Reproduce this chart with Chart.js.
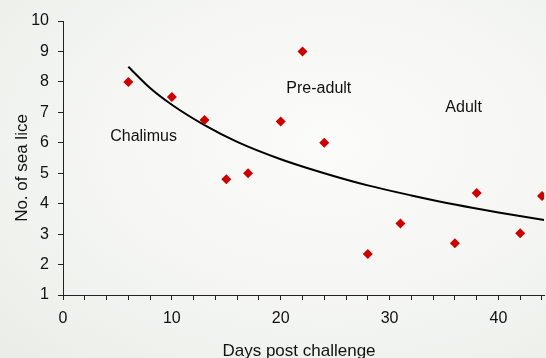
<!DOCTYPE html>
<html>
<head>
<meta charset="utf-8">
<script src="https://cdn.jsdelivr.net/npm/chart.js@4.4.0/dist/chart.umd.min.js"></script>
<style>
  html, body { margin: 0; padding: 0; }
  body {
    width: 546px; height: 358px; overflow: hidden;
    background: radial-gradient(ellipse at 60% 40%, #fbfbfa 0%, #f6f7f5 45%, #eaede7 100%);
  }
  /* the original picture is cropped on the right, so the chart runs a few px past the edge */
  #wrap { position: relative; width: 551px; height: 358px; }
</style>
</head>
<body>
<div id="wrap"><canvas id="graph"></canvas></div>
<script>
// days post challenge / number of sea lice
const days = [6, 10, 13, 15, 17, 20, 22, 24, 28, 31, 36, 38, 42, 44];
const lice = [8, 7.5, 6.75, 4.8, 5, 6.7, 9, 6, 2.35, 3.35, 2.7, 4.35, 3.03, 4.25];

// trend curve
const trendDays = [6, 8, 10, 13, 16, 20, 24, 28, 32, 36, 40, 44.2];
const trendLice = [8.5, 7.8, 7.25, 6.58, 6.03, 5.46, 5.0, 4.6, 4.27, 3.97, 3.71, 3.46];

// stage names and where they sit (data units)
const stages = ['Chalimus', 'Pre-adult', 'Adult'];
const stageDays = [7.4, 23.5, 36.8];
const stageLice = [6.2, 7.77, 7.14];

const xTicks = [0, 10, 20, 30, 40];
const xTitle = 'Days post challenge';
const yTitle = 'No. of sea lice';

let points = days.map(function (d, i) { return { x: d, y: lice[i] }; });
let trend = trendDays.map(function (d, i) { return { x: d, y: trendLice[i] }; });

const FONT = '"Liberation Sans", Arial, sans-serif';

const stageLabels = {
    id: 'stageLabels',
    afterDatasetsDraw: function (chart) {
        let ctx = chart.ctx;
        let xs = chart.scales.x;
        let ys = chart.scales.y;
        ctx.save();
        ctx.font = '16px ' + FONT;
        ctx.fillStyle = '#111';
        ctx.textAlign = 'center';
        ctx.textBaseline = 'middle';
        for (let i = 0; i < stages.length; i++) {
            ctx.fillText(stages[i], xs.getPixelForValue(stageDays[i]), ys.getPixelForValue(stageLice[i]));
        }
        // axis titles
        ctx.font = '17px ' + FONT;
        ctx.textBaseline = 'alphabetic';
        ctx.fillText(xTitle, 299, 356);
        ctx.translate(27, 168);
        ctx.rotate(-Math.PI / 2);
        ctx.fillText(yTitle, 0, 0);
        ctx.restore();
    }
};

let ctx = document.getElementById('graph').getContext('2d');
Chart.defaults.font.family = FONT;
Chart.defaults.color = '#111';

let graph = new Chart(ctx, {
    type: 'scatter',
    data: {
        datasets: [
            {
                data: points,
                pointStyle: 'rectRot',
                pointRadius: 5,
                pointHoverRadius: 5,
                backgroundColor: '#cc0000',
                borderWidth: 0,
                order: 1
            },
            {
                data: trend,
                showLine: true,
                pointRadius: 0,
                borderColor: '#000',
                borderWidth: 2,
                cubicInterpolationMode: 'monotone',
                order: 2
            }
        ]
    },
    options: {
        responsive: true,
        maintainAspectRatio: false,
        animation: false,
        layout: { padding: { top: 21, right: 0, bottom: 0, left: 0 } },
        plugins: {
            legend: { display: false },
            tooltip: { enabled: false }
        },
        scales: {
            x: {
                type: 'linear',
                min: 0,
                max: 44.2,
                afterFit: function (scale) {
                    scale.height = 63;
                },
                border: { color: '#222', width: 1 },
                grid: { display: true, drawOnChartArea: false, tickLength: 5, color: '#222' },
                ticks: {
                    stepSize: 2,
                    includeBounds: false,
                    padding: 9,
                    maxRotation: 0,
                    autoSkip: false,
                    font: { size: 16 },
                    callback: function (v) { return xTicks.indexOf(v) >= 0 ? String(v) : ''; }
                },
                title: { display: false }
            },
            y: {
                type: 'linear',
                min: 1,
                max: 10,
                afterFit: function (scale) {
                    scale.width = 63;
                },
                border: { color: '#222', width: 1 },
                grid: { display: true, drawOnChartArea: false, tickLength: 5, color: '#222' },
                ticks: {
                    stepSize: 1,
                    padding: 9,
                    font: { size: 16 }
                },
                title: { display: false }
            }
        }
    },
    plugins: [stageLabels]
});
</script>
</body>
</html>
